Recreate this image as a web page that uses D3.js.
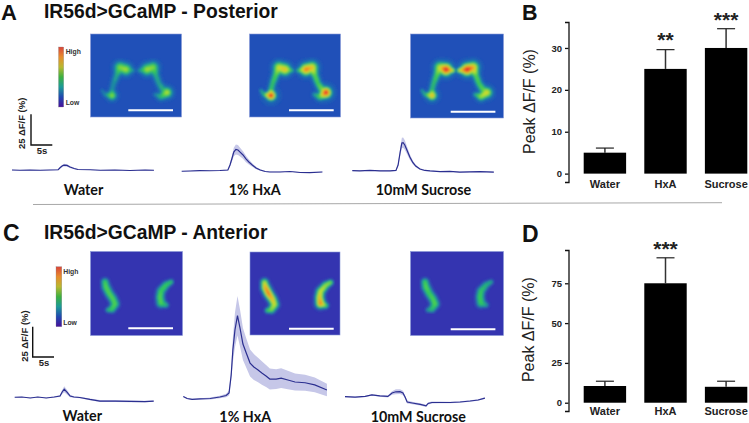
<!DOCTYPE html>
<html><head><meta charset="utf-8">
<script src="https://cdn.jsdelivr.net/npm/d3@7"></script>
<style>html,body{margin:0;padding:0;background:#fff}svg{display:block}
text{font-family:"Liberation Sans",Arial,sans-serif}</style></head>
<body><svg id="c" width="749" height="423"></svg>
<script>
// Bar charts
const barCats = ["Water","HxA","Sucrose"];
const bMeans = [5,25,30];
const bTops = [6.1,29.6,34.6];
const bStars = ["","**","***"];
const bTicks = [0,10,20,30];
const dMeans = [10.5,75,10];
const dTops = [13.5,91,13.5];
const dStars = ["","***",""];
const dTicks = [0,25,50,75];
// Traces: time (s), dF/F (%), SEM (%)
const awT=[0,1.9,4.3,6.7,9,11,11.5,12,12.4,13.1,13.8,14.8,15.7,18.6,21,24.5,28.1,31.7,33.8];
const awV=[0,-.2,0,-.2,0,.2,2,3.4,4,3.7,2.4,1.2,.4,.2,-.2,0,-.4,0,-.2];
const awE=[.3,.3,.3,.3,.3,.4,.6,.9,1.1,1,.8,.6,.4,.3,.3,.3,.3,.3,.3];
const ahT=[0,2,4.3,6.7,9.1,11,11.5,12,12.4,12.9,13.4,13.9,14.6,15.3,16,16.8,17.7,18.7,19.9,21,23.4,25.8,28.2,30.5,33.5];
const ahV=[-.2,0,.3,.2,.4,.8,4.9,10.6,15.4,17.5,17.1,15.4,13,9.8,7.3,4.9,2.4,.8,-.4,-.8,-.8,-.4,-1.2,-1.4,-.8];
const ahE=[.3,.3,.3,.3,.3,.4,1.2,2.5,3.5,4,4,3.6,3,2.6,2,1.5,1,.6,.4,.3,.3,.3,.3,.3,.3];
const asT=[0,1.8,4.2,6.6,9,10.4,10.9,11.4,11.8,12.1,12.5,13,13.7,14.4,15.1,16.1,17.3,18.5,20.9,23.2,25.6,28,30.4,33.7];
const asV=[0,-.2,.3,-.2,-.2,.2,4.6,15.2,22.5,22.8,20.9,16.8,11.1,6.7,3.8,1.4,.2,-.2,-.8,-.6,-1.1,-.9,-.7,-1.2];
const asE=[.3,.3,.3,.3,.3,.4,1.2,3,4.2,4.2,3.8,3,2.2,1.5,1,.6,.4,.3,.3,.3,.3,.3,.3,.3];
const cwT=[0,1.7,3.7,5.5,7.5,9.4,10.8,11.3,11.8,12.5,13.2,14.1,15.5,17.9,20.3,23.9,27.5,31,33.1];
const cwV=[-.2,0,-.8,0,-.8,0,.8,4.1,6.3,3.7,.8,0,-.4,-2,-3.3,-3.3,-3.5,-3.7,-3.3];
const cwE=[.3,.3,.3,.3,.3,.4,.8,1.6,2.4,1.8,1,.7,.6,.7,.8,.8,.7,.6,.5];
const chT=[0,.9,2.1,4,6.4,8.7,10.2,10.9,11.4,11.8,12.3,12.9,13.5,14.2,14.9,15.9,16.8,17.8,18.7,19.7,20.6,22.1,23.3,24.9,26.6,29,31.3,34.2];
const chV=[.4,-1.2,-2,-1.6,-1.2,0,1.2,3.3,17.9,38.2,54.5,66.1,56.1,43.1,36.6,27.6,24.4,22,19.5,17.1,14.6,14.6,15.4,13.8,12.2,11.6,9.8,5.7];
const chE=[.5,.5,.5,.5,.8,1,1.5,2,4,10,14,16,15,13,12,11,10.5,10,9.5,9,8.5,8,8,7.5,7,6.5,6,5];
const csT=[0,2.4,4.8,6.4,8.3,10.2,11.2,12.1,13.1,13.8,14.3,14.8,16,17.9,19.3,19.8,20.7,22.6,25,27.4,29.8,31.7,33.3];
const csV=[0,-.4,.2,1.4,.6,.2,3,4,4.1,3,-.2,-4.3,-5.1,-6.3,-7.5,-5.5,-4.7,-4.7,-4.7,-4.3,-3.5,-2.7,-1.1];
const csE=[.4,.4,.4,.5,.6,.8,1.4,2,2,1.8,1.2,1.2,1,.9,.9,.9,.8,.7,.6,.6,.6,.6,.6];
// Imaging structures: polyline arms with spread and per-stimulus brightness at each vertex
const pArm=[0,0,0,0,0,0,0,0,0,1,1,1,1,1,1,1,1,1];
const pX=[42,35,29,26,23,21,21,14,11, 48,56,62,65,68,72,76,70,64];
const pY=[36,35,33,40,48,55,61,60,56, 36,35,33,41,49,55,58,62,60];
const pS=[1.6,3.6,3.6,2.4,2.2,2,2.8,1.5,1.2, 1.6,3.6,3.6,2.4,2.2,2.6,3.2,2.6,1.4];
const pWater=[.2,.52,.48,.28,.22,.2,.5,.18,.16, .2,.52,.48,.28,.26,.3,.56,.32,.18];
const pHxA=[.3,.68,.6,.42,.36,.34,1,.3,.26, .3,.82,.68,.42,.4,.46,1,.42,.24];
const pSucrose=[.55,1,.58,.42,.34,.32,.72,.28,.24, .55,1,.74,.42,.4,.42,.62,.52,.28];
const aArm=[0,0,0,0,0,0,0,1,1,1,1,1,1];
const aX=[14,15,18,22,24,21,17, 80,75,70,69,70,75];
const aY=[30,35,41,47,52,57,58, 30,33,39,45,51,53];
const aS=[2.2,2.5,2.5,2.5,2.5,2.2,1.6, 1.6,2.2,2.5,2.5,2.7,1.8];
const aWater=[.42,.45,.45,.45,.45,.42,.3, .36,.4,.42,.45,.45,.3];
const aHxA=[.6,.8,.88,.72,.62,.52,.42, .52,.55,.62,.72,.86,.45];
const aSucrose=[.42,.45,.42,.44,.46,.34,.24, .26,.3,.38,.42,.4,.24];
const stimLabels=["Water","1% HxA","10mM Sucrose"];
const colorStops=["#46109a","#2048b0","#1c9a98","#3cb040","#b8b830","#e88c2c","#d8453a"];

const svg=d3.select("#c");
const defs=svg.append("defs");
defs.append("filter").attr("id","soft").attr("x","0").attr("y","0").attr("width","1").attr("height","1")
  .append("feGaussianBlur").attr("stdDeviation",0.8);
const g=defs.append("linearGradient").attr("id","cbar").attr("x1",0).attr("y1",1).attr("x2",0).attr("y2",0);
colorStops.forEach((c,i)=>g.append("stop").attr("offset",i/(colorStops.length-1)).attr("stop-color",c));

function txt(x,y,s,o={}){
  const t=svg.append("text").attr("x",x).attr("y",y).text(s)
   .attr("font-size",o.size||10).attr("font-weight",o.weight||"normal")
   .attr("fill",o.fill||"#111").attr("text-anchor",o.anchor||"start");
  if(o.font)t.style("font-family",o.font);
  if(o.rot)t.attr("transform",`rotate(${o.rot},${x},${y})`);
  return t;
}
// titles
txt(1,20,"A",{size:22,weight:"bold"});
txt(522,19.5,"B",{size:21.5,weight:"bold"});
txt(3,241,"C",{size:23,weight:"bold"});
txt(522,241.5,"D",{size:23,weight:"bold"});
txt(44,17.5,"IR56d>GCaMP - Posterior",{size:19.3,weight:"bold"});
txt(44,238.5,"IR56d>GCaMP - Anterior",{size:19.3,weight:"bold"});
svg.append("line").attr("x1",33).attr("y1",204.5).attr("x2",722).attr("y2",202.7).attr("stroke","#a8a8a8").attr("stroke-width",1);

// heat images
function heat(x,y,w,h,Arm,X,Y,S,A,bg,peak,sbX,sbY,halo){
  const vals=new Array(w*h);
  for(let j=0;j<h;j++)for(let i=0;i<w;i++){
    let s=0,glow=0;
    for(let k=0;k<X.length-1;k++){
      if(Arm[k]!==Arm[k+1])continue;
      const dx=X[k+1]-X[k],dy=Y[k+1]-Y[k];
      const u=Math.max(0,Math.min(1,((i-X[k])*dx+(j-Y[k])*dy)/(dx*dx+dy*dy)));
      const d=(i-X[k]-u*dx)**2+(j-Y[k]-u*dy)**2;
      const a=A[k]+(A[k+1]-A[k])*u, sg=S[k]+(S[k+1]-S[k])*u;
      s=Math.max(s,a*Math.exp(-d/(2*sg*sg)));
      glow=Math.max(glow,a*Math.exp(-d/(2*64)));
    }
    vals[j*w+i]=Math.min(1,s+halo*glow);
  }
  const col=d3.scaleLinear().domain([0,.12,.25,.42,.62,.8,1])
    .range([bg,peak[0],peak[1],peak[2],"#c8e030","#f0a828","#e8402a"]);
  const gi=svg.append("g").attr("transform",`translate(${x},${y})`);
  gi.append("rect").attr("width",w).attr("height",h).attr("fill",bg);
  const lv=d3.range(0.04,1,0.05);
  const cont=d3.contours().size([w,h]).thresholds(lv)(vals);
  gi.append("g").attr("filter","url(#soft)").selectAll("path").data(cont).join("path")
    .attr("d",d3.geoPath()).attr("fill",d=>col(d.value+0.025));
  gi.append("rect").attr("width",w).attr("height",h).attr("fill","none").attr("stroke","#8a9ad8").attr("stroke-width",.6);
  svg.append("line").attr("x1",sbX).attr("x2",sbX+44.7).attr("y1",sbY).attr("y2",sbY).attr("stroke","#fff").attr("stroke-width",2);
}
const pPeak=["#1f68b4","#1f9a98","#3ccc50"], aPeak=["#2a62b0","#22a58a","#34cc58"];
heat(90.5,34,91,83,pArm,pX,pY,pS,pWater,"#2050b8",pPeak,128.3,110.3,.1);
heat(249.5,34,91,83,pArm,pX,pY,pS,pHxA,"#2050b8",pPeak,289,110.3,.1);
heat(410.5,34,93,84,pArm,pX,pY,pS,pSucrose,"#2050b8",pPeak,450.7,111.7,.1);
heat(90.5,251.5,92,84,aArm,aX,aY,aS,aWater,"#3434b0",aPeak,128.3,328.3,.05);
heat(250,252,90,83,aArm,aX,aY,aS,aHxA,"#3434b0",aPeak,289,328.7,.05);
heat(410.5,251.5,93,84,aArm,aX,aY,aS,aSucrose,"#3434b0",aPeak,450.7,329.3,.05);

// colorbars
function cbar(x,y,w,h,hy,ly,tx){
  svg.append("rect").attr("x",x).attr("y",y).attr("width",w).attr("height",h).attr("fill","url(#cbar)").attr("stroke","#888").attr("stroke-width",.3);
  txt(tx,hy,"High",{size:6.8,fill:"#333",weight:"bold"});
  txt(tx,ly,"Low",{size:6.8,fill:"#333",weight:"bold"});
}
cbar(58.5,47,5.2,60,54,104.7,65.7);
cbar(56,266.7,5.8,60,274,324.7,63.3);

// scale bars
function sbar(x,yt,yb,xr,lx,ly,sx,sy){
  svg.append("path").attr("d",d3.line()([[x,yt],[x,yb],[xr,yb]])).attr("fill","none").attr("stroke","#111").attr("stroke-width",1.4);
  txt(lx,ly,"25 ΔF/F (%)",{size:9.5,weight:"bold",anchor:"middle",rot:-90,fill:"#222"});
  txt(sx,sy,"5s",{size:9.5,weight:"bold",anchor:"middle",fill:"#222"});
}
sbar(31,114.3,145,52.3,25,123.3,42,154);
sbar(32.7,326.7,357,54,27.5,336,44,366);

// traces
const secPx=4.2, pctPx=1.23;
function trace(x0,base,T,V,E){
  const x=d3.scaleLinear().domain([0,1]).range([x0,x0+secPx]);
  const y=d3.scaleLinear().domain([0,1]).range([base,base-pctPx]);
  const pts=T.map((t,i)=>({t,v:V[i],e:E[i]}));
  svg.append("path").attr("d",d3.area().x(d=>x(d.t)).y0(d=>y(d.v-d.e)).y1(d=>y(d.v+d.e))(pts)).attr("fill","#c6c7e8");
  svg.append("path").attr("d",d3.line().x(d=>x(d.t)).y(d=>y(d.v))(pts)).attr("fill","none").attr("stroke","#2b2f90").attr("stroke-width",1.2);
}
trace(12,170,awT,awV,awE);
trace(181.7,171,ahT,ahV,ahE);
trace(352.3,170.7,asT,asV,asE);
trace(14.7,397,cwT,cwV,cwE);
trace(183.3,397,chT,chV,chE);
trace(345,396.7,csT,csV,csE);
const labFont='Lato,"Open Sans",sans-serif';
[[83.5,195],[254.7,195],[423.5,195]].forEach((p,i)=>txt(p[0],p[1],stimLabels[i],{size:14.3,weight:"bold",anchor:"middle",font:labFont}));
[[82.3,421],[245.3,421.5],[418.3,421.5]].forEach((p,i)=>txt(p[0],p[1],stimLabels[i],{size:14.3,weight:"bold",anchor:"middle",font:labFont}));

// bar charts
function bars(means,tops,stars,ticks,domain,yr,labY,yLabelY,starY){
  const y=d3.scaleLinear().domain(domain).range(yr);
  const x=d3.scaleBand().domain(barCats).range([583.7,747.3]).paddingInner(.3).paddingOuter(0);
  const gg=svg.append("g");
  barCats.forEach((c,i)=>{
    const cx=x(c)+x.bandwidth()/2;
    gg.append("path").attr("d",d3.line()([[cx,y(means[i])],[cx,y(tops[i])]])).attr("stroke","#333").attr("stroke-width",1.5);
    gg.append("path").attr("d",d3.line()([[cx-9,y(tops[i])],[cx+9,y(tops[i])]])).attr("stroke","#222").attr("stroke-width",1.2);
    gg.append("rect").attr("x",x(c)).attr("width",x.bandwidth()).attr("y",y(means[i])).attr("height",y(0)-y(means[i])).attr("fill","#000");
    txt(cx,labY,c,{size:11,weight:"bold",anchor:"middle",fill:"#222"});
    if(stars[i]) txt(cx,starY[i],stars[i],{size:21,weight:"bold",anchor:"middle",fill:"#222"});
  });
  const ax=svg.append("g").attr("transform","translate(568.5,0)")
    .call(d3.axisLeft(y).tickValues(ticks).tickSizeOuter(0).tickSize(3.5).tickPadding(3));
  ax.select(".domain").attr("stroke","#111").attr("stroke-width",1.3);
  ax.selectAll(".tick line").attr("stroke","#111").attr("stroke-width",1.3);
  ax.selectAll(".tick text").attr("font-size",9.5).attr("font-weight","bold").attr("fill","#222").style("font-family",'"Liberation Sans",Arial,sans-serif');
  txt(534.5,yLabelY,"Peak ΔF/F (%)",{size:16,anchor:"middle",rot:-90,fill:"#222"});
}
bars(bMeans,bTops,bStars,bTicks,[-2,36.2],[182,22],188,101.5,[0,47,27]);
bars(dMeans,dTops,dStars,dTicks,[-5.2,95.9],[411,250],414.5,329.6,[0,256,0]);
</script></body></html>
